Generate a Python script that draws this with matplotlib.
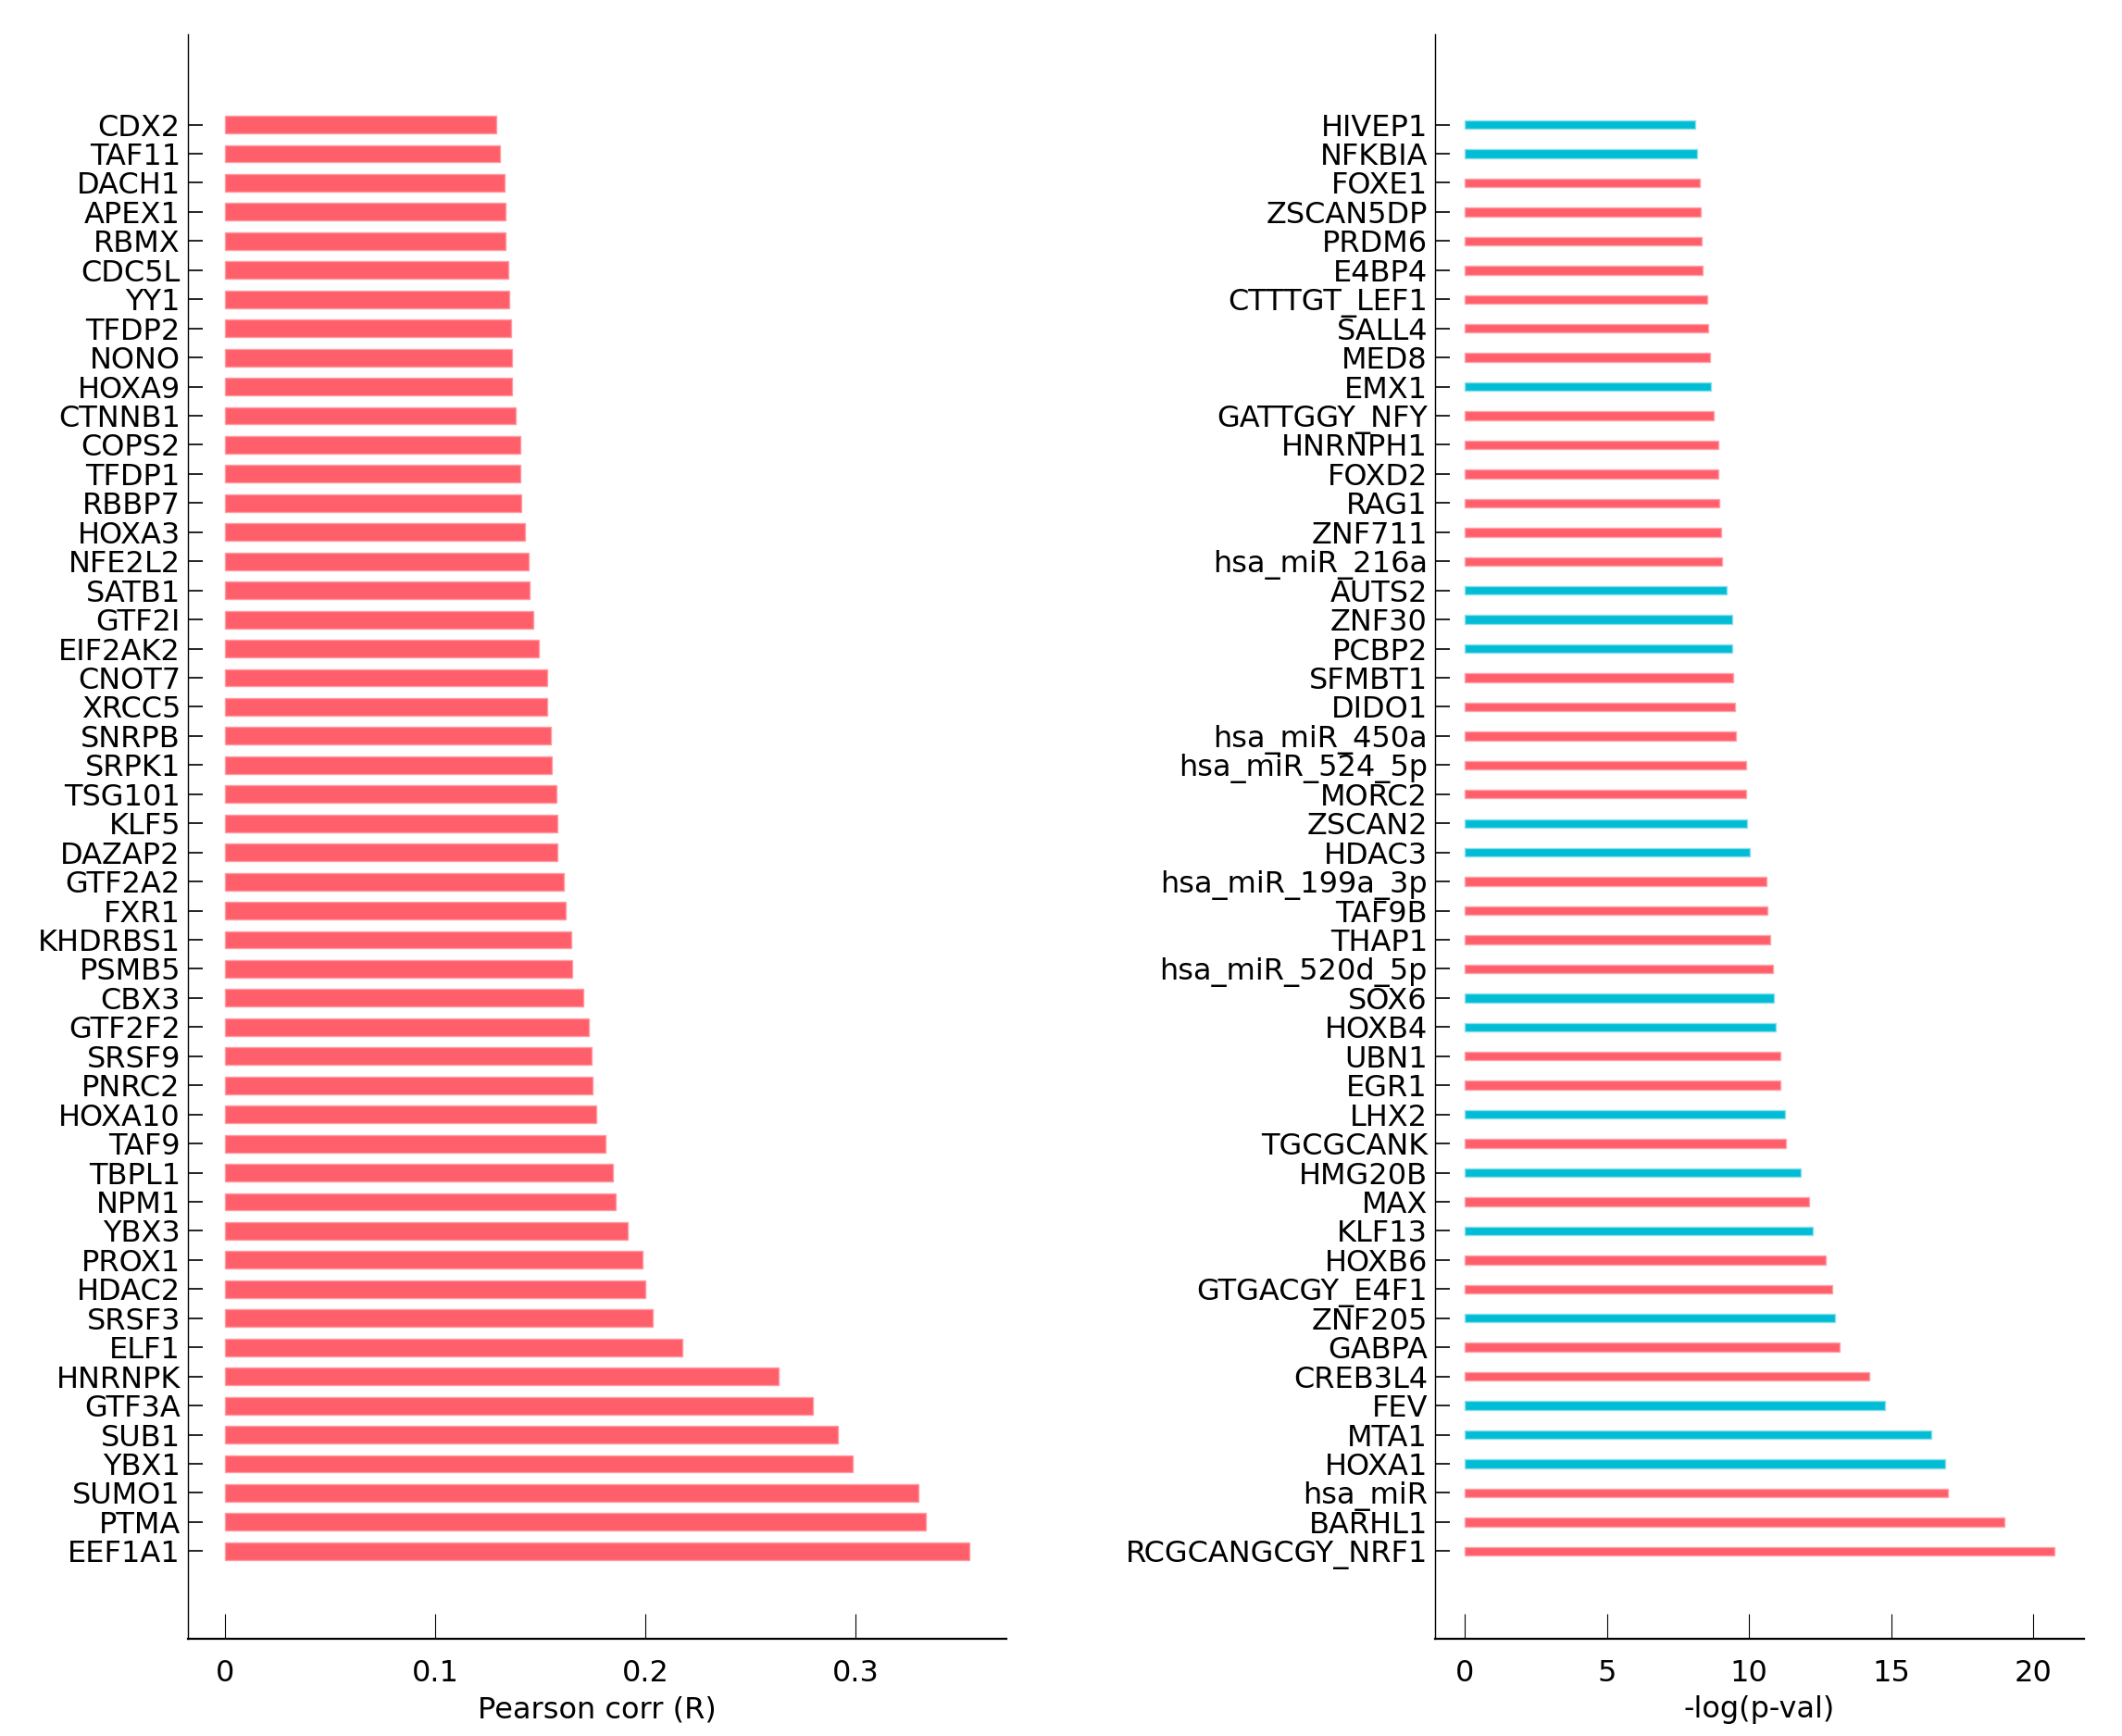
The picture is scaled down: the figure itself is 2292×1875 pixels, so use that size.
import matplotlib
matplotlib.use("Agg")
import matplotlib.pyplot as plt
import numpy as np

# Left panel: genes correlation (top to bottom)
genes = ["CDX2", "TAF11", "DACH1", "APEX1", "RBMX", "CDC5L", "YY1", "TFDP2", "NONO", "HOXA9",
         "CTNNB1", "COPS2", "TFDP1", "RBBP7", "HOXA3", "NFE2L2", "SATB1", "GTF2I", "EIF2AK2", "CNOT7",
         "XRCC5", "SNRPB", "SRPK1", "TSG101", "KLF5", "DAZAP2", "GTF2A2", "FXR1", "KHDRBS1", "PSMB5",
         "CBX3", "GTF2F2", "SRSF9", "PNRC2", "HOXA10", "TAF9", "TBPL1", "NPM1", "YBX3", "PROX1",
         "HDAC2", "SRSF3", "ELF1", "HNRNPK", "GTF3A", "SUB1", "YBX1", "SUMO1", "PTMA", "EEF1A1"]
corr = [0.1288, 0.1307, 0.1327, 0.1333, 0.1335, 0.1346, 0.1350, 0.1360, 0.1362, 0.1366,
        0.1380, 0.1403, 0.1405, 0.1410, 0.1425, 0.1445, 0.1446, 0.1464, 0.1490, 0.1530,
        0.1531, 0.1550, 0.1555, 0.1575, 0.1580, 0.1581, 0.1610, 0.1620, 0.1647, 0.1650,
        0.1705, 0.1730, 0.1745, 0.1748, 0.1765, 0.1810, 0.1843, 0.1856, 0.1915, 0.1987,
        0.2000, 0.2033, 0.2176, 0.2634, 0.2797, 0.2915, 0.2987, 0.3300, 0.3333, 0.3542]

# Right panel: motifs / TFs -log(p-val) (top to bottom)
motifs = ["HIVEP1", "NFKBIA", "FOXE1", "ZSCAN5DP", "PRDM6", "E4BP4", "CTTTGT_LEF1", "SALL4", "MED8", "EMX1",
          "GATTGGY_NFY", "HNRNPH1", "FOXD2", "RAG1", "ZNF711", "hsa_miR_216a", "AUTS2", "ZNF30", "PCBP2", "SFMBT1",
          "DIDO1", "hsa_miR_450a", "hsa_miR_524_5p", "MORC2", "ZSCAN2", "HDAC3", "hsa_miR_199a_3p", "TAF9B", "THAP1", "hsa_miR_520d_5p",
          "SOX6", "HOXB4", "UBN1", "EGR1", "LHX2", "TGCGCANK", "HMG20B", "MAX", "KLF13", "HOXB6",
          "GTGACGY_E4F1", "ZNF205", "GABPA", "CREB3L4", "FEV", "MTA1", "HOXA1", "hsa_miR", "BARHL1", "RCGCANGCGY_NRF1"]
neglogp = [8.09, 8.18, 8.28, 8.30, 8.33, 8.38, 8.52, 8.57, 8.62, 8.67,
           8.76, 8.91, 8.93, 8.96, 9.00, 9.06, 9.20, 9.40, 9.41, 9.44,
           9.50, 9.54, 9.88, 9.90, 9.93, 10.02, 10.60, 10.65, 10.75, 10.85,
           10.86, 10.95, 11.09, 11.10, 11.28, 11.30, 11.82, 12.10, 12.25, 12.69,
           12.93, 13.03, 13.17, 14.24, 14.77, 16.42, 16.90, 17.00, 18.98, 20.73]
motif_group = ["b", "b", "r", "r", "r", "r", "r", "r", "r", "b",
               "r", "r", "r", "r", "r", "r", "b", "b", "b", "r",
               "r", "r", "r", "r", "b", "b", "r", "r", "r", "r",
               "b", "b", "r", "r", "b", "r", "b", "r", "b", "r",
               "r", "b", "r", "r", "b", "b", "b", "r", "r", "r"]

RED = "#FF5F6B"
BLUE = "#00BCD4"
FS = 11.5

plt.rcParams["font.family"] = ["DejaVu Sans"]

fig = plt.figure(figsize=(11.46, 9.375), dpi=200)
ax1 = fig.add_axes([0.0887, 0.0562, 0.3857, 0.9240])
ax2 = fig.add_axes([0.6764, 0.0562, 0.3055, 0.9240])

n = len(genes)
ypos = np.arange(n)[::-1]

ax1.barh(ypos, corr, height=0.6, color=RED, edgecolor="#FF9AA2", linewidth=0.5)
cols = [BLUE if g == "b" else RED for g in motif_group]
ecols = ["#8EE0EB" if g == "b" else "#FFA3AA" for g in motif_group]
ax2.barh(ypos, neglogp, height=0.3, color=cols, edgecolor=ecols, linewidth=0.5)

for ax, labels, xl in [(ax1, genes, "Pearson corr (R)"), (ax2, motifs, "-log(p-val)")]:
    ax.set_yticks(ypos)
    ax.set_yticklabels(labels, fontsize=FS)
    ax.set_ylim(-3.0, 52.1)
    ax.spines["top"].set_visible(False)
    ax.spines["right"].set_visible(False)
    ax.spines["left"].set_linewidth(0.5)
    ax.spines["bottom"].set_linewidth(0.8)
    ax.tick_params(axis="y", direction="in", length=5.8, width=0.6, pad=3)
    ax.tick_params(axis="x", direction="in", length=9.7, width=0.4, pad=8)
    ax.set_xlabel(xl, fontsize=FS, labelpad=3)

ax1.set_xlim(-0.0177, 0.3719)
ax1.set_xticks([0, 0.1, 0.2, 0.3])
ax1.set_xticklabels(["0", "0.1", "0.2", "0.3"], fontsize=FS)
ax2.set_xlim(-1.04, 21.77)
ax2.set_xticks([0, 5, 10, 15, 20])
ax2.set_xticklabels(["0", "5", "10", "15", "20"], fontsize=FS)

fig.savefig("out.png", dpi=200, facecolor="white")
